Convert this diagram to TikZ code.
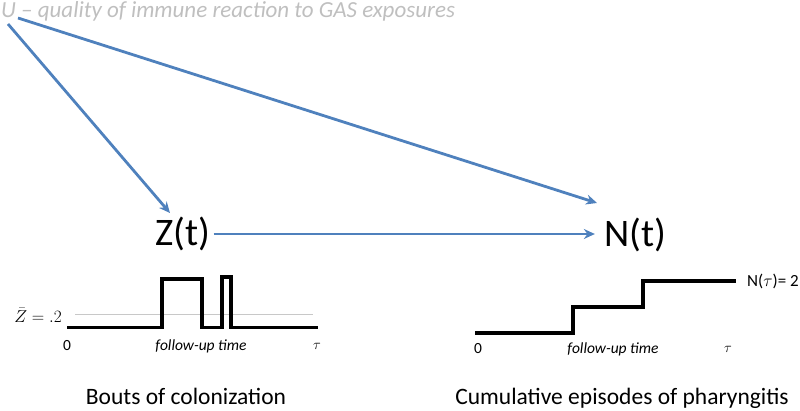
\documentclass[tikz,border=0pt]{standalone}
\usepackage{fontspec}
\setmainfont{Carlito}
\usetikzlibrary{arrows.meta}
\definecolor{arrowblue}{HTML}{4F81BD}
\definecolor{ugray}{HTML}{BFBFBF}
\definecolor{meangray}{HTML}{C8C8C8}
\begin{document}
\begin{tikzpicture}[x=1pt,y=-1pt,
  conn/.style={draw=arrowblue, line width=2.8pt, -{Stealth[length=11pt,width=10pt]}},
  stepline/.style={line width=3.6pt, line join=miter},
  axislbl/.style={font=\fontsize{15.5}{18}\selectfont, inner sep=0pt},
  big/.style={font=\fontsize{39}{46}\selectfont, inner sep=0pt},
  caption/.style={font=\fontsize{23.5}{27}\selectfont, inner sep=0pt, anchor=base}]
\useasboundingbox (0,0) rectangle (800,411);
% top variable
\node[font=\itshape\fontsize{23}{26}\selectfont, text=ugray, anchor=west, inner sep=0pt] (U) at (1,11) {U – quality of immune reaction to GAS exposures};
\coordinate (u1) at (8,24);
\coordinate (u2) at (18,18);
% main nodes
\node[big] (Z) at (183,234) {Z(t)};
\node[big] (N) at (635,235) {N(t)};
\coordinate (zin) at (170,213);
\coordinate (nin) at (597,203);
% connectors
\draw[conn] (u1) -- (zin);
\draw[conn] (u2) -- (nin);
\draw[conn, shorten <=3pt, shorten >=9pt] (Z.east) -- (Z.east -| N.west);
% colonization plot
\draw[meangray, line width=1pt] (75,315) -- (313,315);
\draw[stepline] (67,327.5) -- (162,327.5) -- (162,279) -- (202,279) -- (202,327.5) -- (222,327.5) -- (222,277) -- (231,277) -- (231,327.5) -- (318,327.5);
\node[font=\fontsize{17}{20}\selectfont, inner sep=0pt, anchor=east] (zbar) at (62,315) {$\bar{Z} = .2$};
\node[axislbl] (z0) at (67,346) {0};
\node[axislbl, font=\itshape\fontsize{15.5}{18}\selectfont] (zfu) at (201,346) {follow-up time};
\node[axislbl] (ztau) at (317,346) {$\tau$};
% pharyngitis plot
\draw[stepline] (475,333) -- (573,333) -- (573,307) -- (643,307) -- (643,281) -- (736,281);
\node[font=\fontsize{17}{20}\selectfont, inner sep=0pt, anchor=west] (ntau) at (747,281) {N($\tau$)= 2};
\node[axislbl] (n0) at (478,349) {0};
\node[axislbl, font=\itshape\fontsize{15.5}{18}\selectfont] (nfu) at (613,349) {follow-up time};
\node[axislbl] (ntauax) at (728,349) {$\tau$};
% captions
\node[caption] (capz) at (186,404) {Bouts of colonization};
\node[caption] (capn) at (622,404) {Cumulative episodes of pharyngitis};
\end{tikzpicture}
\end{document}
